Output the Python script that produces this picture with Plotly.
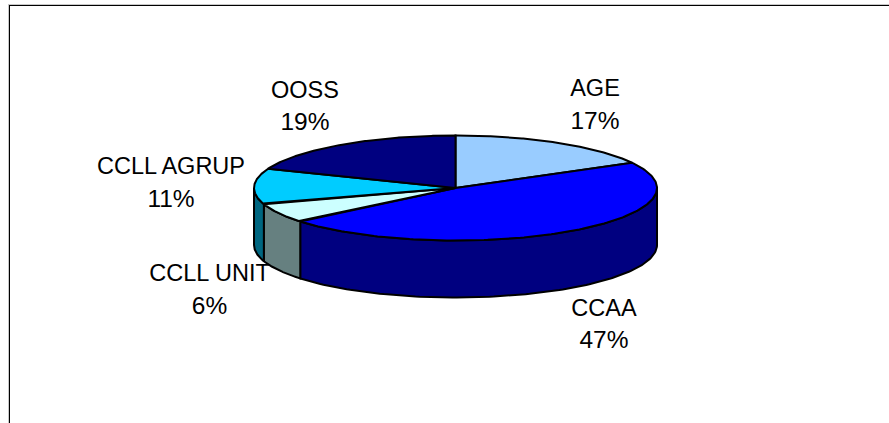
import numpy as np
import plotly.graph_objects as go

categories = ["AGE", "CCAA", "CCLL UNIT", "CCLL AGRUP", "OOSS"]
shares = [17, 47, 6, 11, 19]
top_colors = ["#99CCFF", "#0000FF", "#CCFFFF", "#00CCFF", "#000080"]
side_colors = ["#4D6680", "#000080", "#668080", "#006680", "#000040"]
label_centers = [(595, 90.5, 122.5), (604, 310.5, 341.5), (209.5, 275.5, 307.5), (171, 168.5, 200.5), (305, 92.5, 123.5)]

CX, CY, RX, RY, DEPTH = 455.5, 188, 201.5, 52.5, 57
LINE = dict(color="black", width=2)


def ell(t, dy=0.0):
    return CX + RX * np.sin(t), CY - RY * np.cos(t) + dy


fig = go.Figure()
edges = np.cumsum([0] + shares) / sum(shares) * 2 * np.pi

# side walls (only the front half of the disc is visible)
for i in range(len(shares)):
    a, b = max(edges[i], np.pi / 2), min(edges[i + 1], 3 * np.pi / 2)
    if b <= a:
        continue
    t = np.linspace(a, b, 120)
    xt, yt = ell(t)
    xb, yb = ell(t[::-1], DEPTH)
    fig.add_trace(go.Scatter(
        x=np.r_[xt, xb, xt[0]], y=np.r_[yt, yb, yt[0]], mode="lines",
        fill="toself", fillcolor=side_colors[i], line=LINE, hoverinfo="skip"))

# top slices
for i in range(len(shares)):
    t = np.linspace(edges[i], edges[i + 1], 160)
    xt, yt = ell(t)
    fig.add_trace(go.Scatter(
        x=np.r_[CX, xt, CX], y=np.r_[CY, yt, CY], mode="lines",
        fill="toself", fillcolor=top_colors[i], line=LINE,
        name=categories[i], hoverinfo="name"))

# labels
font = dict(family="Liberation Sans, Arial, sans-serif", size=23.5, color="black")
pct_font = dict(family="Liberation Sans, Arial, sans-serif", size=24.5, color="black")
fig.add_trace(go.Scatter(
    x=[c[0] for c in label_centers], y=[c[1] for c in label_centers],
    text=categories, mode="text", textposition="middle center",
    textfont=font, hoverinfo="skip"))
fig.add_trace(go.Scatter(
    x=[c[0] for c in label_centers], y=[c[2] for c in label_centers],
    text=[f"{v}%" for v in shares], mode="text", textposition="middle center",
    textfont=pct_font, hoverinfo="skip"))

# chart frame, cut off by the picture on the right and at the bottom
for off, col in ((-1, "#C8C8C8"), (0, "black")):
    fig.add_shape(type="line", x0=9.5 + off, x1=9.5 + off, y0=5 + off, y1=423,
                  line=dict(color=col, width=1))
    fig.add_shape(type="line", x0=9 + off, x1=889, y0=5.5 + off, y1=5.5 + off,
                  line=dict(color=col, width=1))

fig.update_layout(
    width=889, height=423, margin=dict(l=0, r=0, t=0, b=0),
    paper_bgcolor="white", plot_bgcolor="white", showlegend=False,
    xaxis=dict(range=[0, 889], visible=False, fixedrange=True),
    yaxis=dict(range=[423, 0], visible=False, fixedrange=True),
)
fig.write_html("out.html", config=dict(displayModeBar=False),
               default_width="889px", default_height="423px",
               post_script="document.body.style.margin='0';document.body.style.overflow='hidden';")
